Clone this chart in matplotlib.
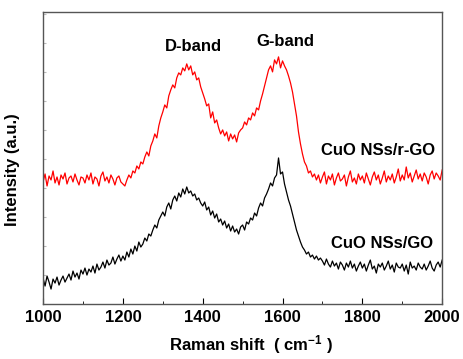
import matplotlib
matplotlib.use("Agg")
import matplotlib.pyplot as plt
from matplotlib.ticker import MultipleLocator
import numpy as np

plt.rcParams['font.family'] = ['Liberation Sans', 'DejaVu Sans']
plt.rcParams['font.weight'] = 'bold'
plt.rcParams['mathtext.default'] = 'regular'

# Raman shift grid, 5 cm-1 steps from 1000 to 2000
shift = np.arange(1000, 2001, 5)

# CuO NSs/r-GO (red), arbitrary units
rgo = [
    122, 130, 118, 128, 124, 133, 121, 127, 119, 129,
    125, 131, 120, 126, 128, 122, 130, 124, 119, 127,
    126, 121, 129, 124, 131, 120, 127, 125, 118, 128,
    132, 123, 127, 121, 129, 125, 119, 126, 128, 122,
    120, 118, 124, 129, 126, 133, 131, 138, 135, 142,
    140, 147, 152, 148, 158, 163, 170, 166, 178, 186,
    192, 199, 196, 208, 214, 219, 216, 226, 231, 229,
    236, 233, 240, 234, 238, 229, 232, 224, 226, 217,
    211, 205, 198, 200, 186, 192, 181, 184, 176, 170,
    174, 168, 172, 163, 170, 165, 169, 162, 171, 174,
    176, 182, 179, 186, 184, 191, 188, 196, 194, 203,
    210, 218, 226, 234, 238, 232, 244, 240, 247, 236,
    243, 238, 234, 228, 221, 212, 200, 188, 172, 160,
    150, 142, 138, 131, 133, 127, 130, 124, 129, 121,
    127, 132, 120, 128, 124, 130, 119, 126, 131, 123,
    125, 129, 118, 127, 133, 122, 126, 120, 130, 124,
    128, 121, 131, 125, 119, 127, 132, 124, 129, 120,
    126, 133, 122, 128, 124, 130, 121, 127, 135, 123,
    129, 124, 137, 126, 131, 122, 128, 134, 125, 130,
    123, 131, 127, 120, 129, 133, 125, 131, 128, 124,
    134,
]

# CuO NSs/GO (black)
go = [
    26, 18, 28, 22, 15, 25, 21, 27, 19, 24,
    28, 22, 26, 30, 24, 33, 27, 31, 25, 34,
    30, 36, 29, 35, 32, 38, 31, 40, 34, 37,
    42, 36, 44, 39, 41, 47, 40, 45, 49, 43,
    48, 44, 52, 47, 55, 50, 58, 53, 62, 57,
    60, 66, 63, 70, 68, 74, 79, 76, 84, 88,
    92, 88, 97, 101, 95, 104, 108, 103, 111, 107,
    115, 110, 117, 111, 113, 108, 110, 104, 106, 101,
    98, 102, 94, 97, 89, 93, 86, 90, 82, 85,
    79, 83, 76, 80, 73, 78, 72, 75, 70, 77,
    79, 74, 82, 80, 86, 84, 91, 88, 96, 101,
    98, 106, 110, 115, 121, 118, 126, 129, 146, 130,
    132, 120, 112, 104, 98, 90, 82, 74, 68, 62,
    57, 54, 50, 52, 47, 49, 45, 48, 44, 46,
    43, 39, 45, 40, 37, 43, 38, 41, 35, 42,
    39, 34, 41, 37, 43, 36, 40, 33, 38, 42,
    36, 40, 33, 39, 44, 35, 38, 31, 40, 37,
    41, 34, 38, 43, 35, 39, 32, 41, 37, 36,
    40, 33, 39, 30, 42, 36, 38, 34, 41, 37,
    35, 40, 34, 38, 43, 36, 33, 39, 42, 37,
    44,
]

fig = plt.figure(figsize=(4.63, 3.59), dpi=100)
ax = fig.add_axes([0.093, 0.153, 0.862, 0.814])

ax.plot(shift, rgo, color='red', lw=0.9)
ax.plot(shift, go, color='black', lw=0.9)

ax.set_xlim(1000, 2000)
ax.set_ylim(0, 292)

ax.text(1376, 257, 'D-band', ha='center', va='center', fontsize=12, fontweight='bold')
ax.text(1606, 262, 'G-band', ha='center', va='center', fontsize=12, fontweight='bold')
ax.text(1982, 153, 'CuO NSs/r-GO', ha='right', va='center', fontsize=12, fontweight='bold')
ax.text(1977, 61, 'CuO NSs/GO', ha='right', va='center', fontsize=12, fontweight='bold')

ax.set_xlabel('Raman shift  ( cm$^{-1}$ )', fontsize=12, fontweight='bold')
ax.xaxis.set_label_coords(0.52, -0.098)
ax.set_ylabel('Intensity (a.u.)', fontsize=12, fontweight='bold')
ax.yaxis.set_label_coords(-0.058, 0.46)

ax.xaxis.set_major_locator(MultipleLocator(200))
ax.xaxis.set_minor_locator(MultipleLocator(100))
ax.yaxis.set_major_locator(MultipleLocator(29))
ax.tick_params(axis='x', which='major', direction='in', length=4, labelsize=12, pad=4)
ax.tick_params(axis='x', which='minor', direction='in', length=2.5)
ax.tick_params(axis='y', direction='in', length=2, labelleft=False, color='#bbbbbb')
for lab in ax.get_xticklabels():
    lab.set_fontweight('bold')
for s in ax.spines.values():
    s.set_color('#555555')
    s.set_linewidth(1.0)

fig.savefig('out.png', dpi=100)
